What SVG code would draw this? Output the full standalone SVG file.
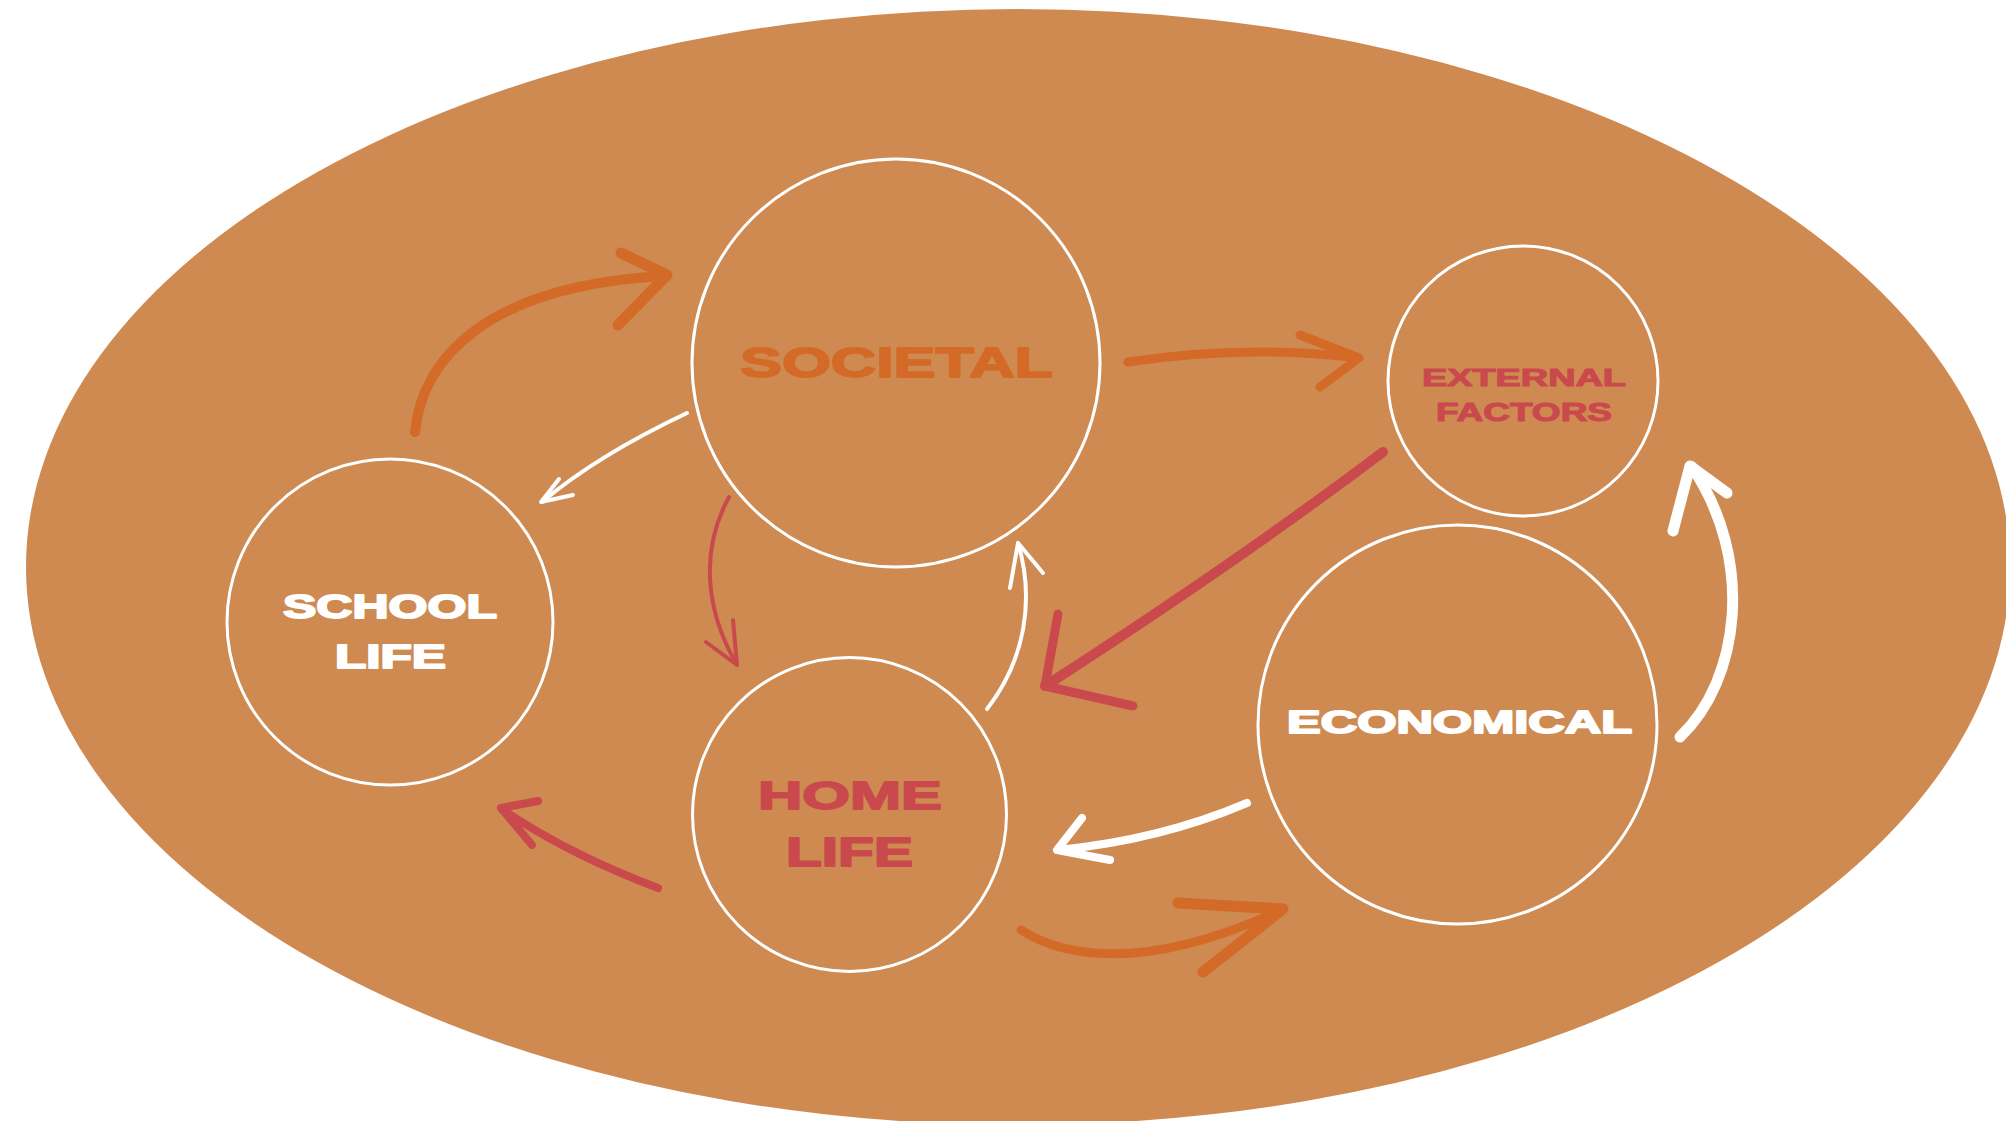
<svg xmlns="http://www.w3.org/2000/svg" width="2006" height="1121" viewBox="0 0 2006 1121">
  <defs>
    <style>
      .ring { fill: none; stroke: #ffffff; stroke-width: 3; }
      .label { font-family: "Liberation Sans", Arial, sans-serif; font-weight: 900; text-anchor: middle; stroke-width: 1.8; stroke-linejoin: round; }
      .small { stroke-width: 1.1; }
      .white { fill: #ffffff; stroke: #ffffff; }
      .red { fill: #c9494d; stroke: #c9494d; }
      .orange { fill: #d46a27; stroke: #d46a27; }
      .arrow { fill: none; stroke-linecap: round; stroke-linejoin: round; }
      .a-orange { stroke: #d46a27; }
      .a-red { stroke: #c9494d; }
      .a-white { stroke: #ffffff; }
    </style>
  </defs>

  <rect width="2006" height="1121" fill="#ffffff"/>
  <!-- backdrop -->
  <ellipse cx="1018" cy="567" rx="992" ry="558" fill="#cf8a52"/>

  <!-- connectors -->
  <g id="connectors">
    <!-- school -> societal -->
    <g id="c-school-societal" class="arrow a-orange">
      <path d="M415,432 C422,360 485,285 666,276" stroke-width="10"/>
      <path d="M621,253 L667,275 L618,325" stroke-width="11"/>
    </g>
    <!-- societal -> school -->
    <g id="c-societal-school" class="arrow a-white">
      <path d="M687,413 C630,440 580,470 542,502" stroke-width="4"/>
      <path d="M559,479 L541,502 L573,495" stroke-width="4"/>
    </g>
    <!-- societal -> external factors -->
    <g id="c-societal-external" class="arrow a-orange">
      <path d="M1128,362 C1180,354 1260,346 1358,358" stroke-width="9"/>
      <path d="M1300,335 L1359,358 L1320,387" stroke-width="9"/>
    </g>
    <!-- societal -> home life -->
    <g id="c-societal-home" class="arrow a-red">
      <path d="M729,497 C700,550 705,610 737,665" stroke-width="4"/>
      <path d="M706,642 L737,665 L733,620" stroke-width="4"/>
    </g>
    <!-- home life -> societal -->
    <g id="c-home-societal" class="arrow a-white">
      <path d="M987,709 C1025,660 1035,600 1018,543" stroke-width="4"/>
      <path d="M1010,588 L1018,543 L1043,573" stroke-width="4"/>
    </g>
    <!-- external factors -> home life -->
    <g id="c-external-home" class="arrow a-red">
      <path d="M1383,452 Q1240,560 1045,686" stroke-width="10"/>
      <path d="M1058,614 L1045,686 L1133,706" stroke-width="9"/>
    </g>
    <!-- economical -> external factors -->
    <g id="c-economical-external" class="arrow a-white">
      <path d="M1680,737 C1740,680 1755,560 1692,467" stroke-width="11"/>
      <path d="M1673,531 L1690,466 L1727,493" stroke-width="11"/>
    </g>
    <!-- economical -> home life -->
    <g id="c-economical-home" class="arrow a-white">
      <path d="M1247,803 Q1160,840 1058,850" stroke-width="8"/>
      <path d="M1082,818 L1057,850 L1110,860" stroke-width="8"/>
    </g>
    <!-- home life -> school -->
    <g id="c-home-school" class="arrow a-red">
      <path d="M658,888 Q570,855 503,810" stroke-width="8"/>
      <path d="M538,801 L501,808 L532,845" stroke-width="8"/>
    </g>
    <!-- home life -> economical -->
    <g id="c-home-economical" class="arrow a-orange">
      <path d="M1021,930 C1060,955 1140,975 1281,910" stroke-width="9"/>
      <path d="M1178,903 L1283,909 L1203,972" stroke-width="11"/>
    </g>
  </g>

  <!-- nodes -->
  <g id="node-societal">
    <circle class="ring" cx="896" cy="363" r="204"/>
    <text class="label orange" x="896.5" y="377" font-size="43" textLength="313" lengthAdjust="spacingAndGlyphs">SOCIETAL</text>
  </g>

  <g id="node-external-factors">
    <circle class="ring" cx="1523" cy="381" r="135"/>
    <text class="label small red" x="1524" y="386" font-size="24" textLength="204" lengthAdjust="spacingAndGlyphs">EXTERNAL</text>
    <text class="label small red" x="1524" y="421" font-size="25" textLength="176" lengthAdjust="spacingAndGlyphs">FACTORS</text>
  </g>

  <g id="node-school-life">
    <circle class="ring" cx="390" cy="622" r="163"/>
    <text class="label white" x="390" y="618" font-size="33" textLength="214" lengthAdjust="spacingAndGlyphs">SCHOOL</text>
    <text class="label white" x="390.5" y="668" font-size="33" textLength="111" lengthAdjust="spacingAndGlyphs">LIFE</text>
  </g>

  <g id="node-home-life">
    <circle class="ring" cx="849.5" cy="814.5" r="157"/>
    <text class="label red" x="850" y="809" font-size="39" textLength="184" lengthAdjust="spacingAndGlyphs">HOME</text>
    <text class="label red" x="849.5" y="866" font-size="40" textLength="127" lengthAdjust="spacingAndGlyphs">LIFE</text>
  </g>

  <g id="node-economical">
    <circle class="ring" cx="1457.5" cy="724.5" r="199.5"/>
    <text class="label white" x="1459.5" y="733" font-size="31" textLength="345" lengthAdjust="spacingAndGlyphs">ECONOMICAL</text>
  </g>
</svg>
